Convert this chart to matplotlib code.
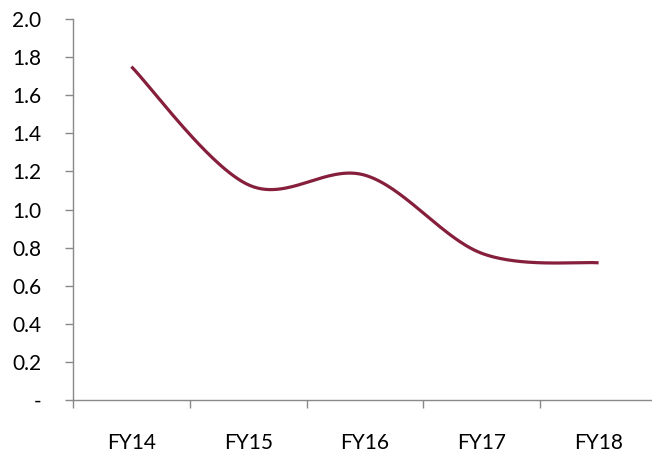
import numpy as np
import matplotlib
matplotlib.use("Agg")
import matplotlib.pyplot as plt

categories = ["FY14", "FY15", "FY16", "FY17", "FY18"]
values = [1.75, 1.13, 1.18, 0.77, 0.72]
yticks = [0.0, 0.2, 0.4, 0.6, 0.8, 1.0, 1.2, 1.4, 1.6, 1.8, 2.0]
ytick_labels = ["-" if v == 0 else f"{v:.1f}" for v in yticks]


def smooth(xs, ys, n=60):
    xs = np.asarray(xs, float)
    ys = np.asarray(ys, float)
    px, py = [], []
    m = len(xs)
    for i in range(m - 1):
        i0 = max(i - 1, 0)
        i3 = min(i + 2, m - 1)
        p0 = np.array([xs[i], ys[i]])
        p3 = np.array([xs[i + 1], ys[i + 1]])
        c1 = p0 + (np.array([xs[i + 1], ys[i + 1]]) - np.array([xs[i0], ys[i0]])) / 6
        c2 = p3 - (np.array([xs[i3], ys[i3]]) - np.array([xs[i], ys[i]])) / 6
        t = np.linspace(0, 1, n)[:, None]
        pts = ((1 - t) ** 3) * p0 + 3 * ((1 - t) ** 2) * t * c1 + 3 * (1 - t) * t ** 2 * c2 + t ** 3 * p3
        px.extend(pts[:, 0])
        py.extend(pts[:, 1])
    return np.array(px), np.array(py)


plt.rcParams["font.family"] = ["Lato", "DejaVu Sans"]

fig = plt.figure(figsize=(6.52, 4.59), dpi=100)
ax = fig.add_axes([73 / 652, 59 / 459, 584 / 652, 381 / 459])

x = np.arange(len(categories))
sx, sy = smooth(x, values)
ax.plot(sx, sy, color="#861F3B", lw=2.3, solid_capstyle="butt")

ax.set_xlim(-0.5, len(categories) - 0.5)
ax.set_ylim(0, 2.0)

ax.set_yticks(yticks)
ax.set_yticklabels(ytick_labels, fontsize=15)
ax.set_xticks(x)
ax.set_xticklabels(categories, fontsize=15)
ax.set_xticks(np.arange(-0.5, len(categories)), minor=True)
ax.tick_params(axis="x", which="major", length=0, pad=24)
ax.tick_params(axis="x", which="minor", length=6, width=1, color="#898989", direction="out")
ax.tick_params(axis="y", length=6, width=1, color="#898989", pad=17)

for s in ["top", "right"]:
    ax.spines[s].set_visible(False)
for s in ["left", "bottom"]:
    ax.spines[s].set_color("#898989")
    ax.spines[s].set_linewidth(1)

fig.savefig("out.png", dpi=100)
